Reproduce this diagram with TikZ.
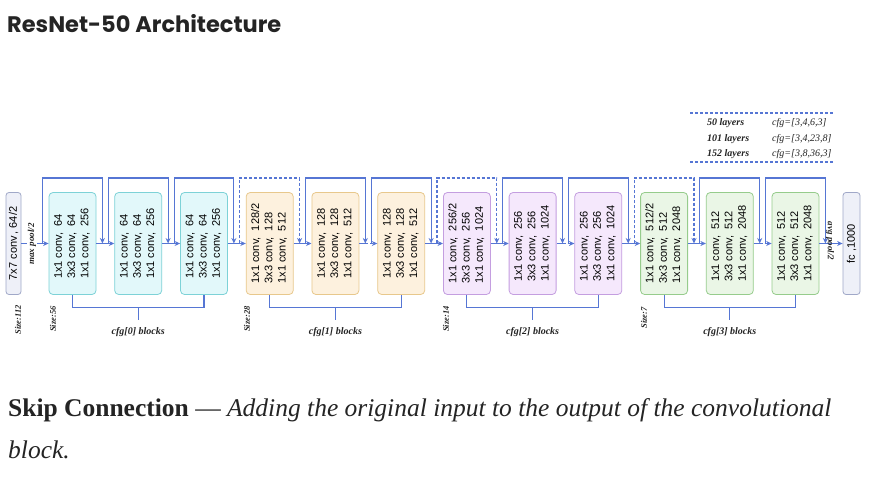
\documentclass[tikz,border=0pt]{standalone}
\usepackage{fontspec}
\usepackage{graphicx}
\setmainfont{Liberation Serif}
\newfontfamily\blksans{Liberation Sans}
\newfontfamily\titlefont{Poppins}
\usetikzlibrary{arrows.meta,calc}
\definecolor{lnblue}{RGB}{86,118,212}
\definecolor{cyfill}{RGB}{226,248,250}
\definecolor{cydraw}{RGB}{125,210,215}
\definecolor{orfill}{RGB}{253,241,222}
\definecolor{ordraw}{RGB}{232,200,140}
\definecolor{pufill}{RGB}{245,232,252}
\definecolor{pudraw}{RGB}{196,158,224}
\definecolor{grfill}{RGB}{234,246,230}
\definecolor{grdraw}{RGB}{150,204,140}
\definecolor{gyfill}{RGB}{238,240,248}
\definecolor{gydraw}{RGB}{160,168,200}
\definecolor{txtdark}{RGB}{36,36,36}
\newcommand\blktext[3]{\rotatebox{90}{\begin{tabular}{@{}l@{}}#1\\#2\\#3\end{tabular}}}
\begin{document}
\begin{tikzpicture}[x=1pt,y=-1pt,
  blk/.style={draw, rounded corners=4pt, minimum width=47pt, minimum height=102pt, inner sep=0pt, line width=0.8pt, font=\blksans\fontsize{11}{13.3}\selectfont},
  cy/.style={blk, fill=cyfill, draw=cydraw},
  orb/.style={blk, fill=orfill, draw=ordraw},
  pub/.style={blk, fill=pufill, draw=pudraw},
  grb/.style={blk, fill=grfill, draw=grdraw},
  endbox/.style={draw=gydraw, fill=gyfill, rounded corners=3pt, line width=0.8pt, minimum height=102pt, inner sep=0pt, font=\blksans\fontsize{11}{13}\selectfont},
  conn/.style={draw=lnblue, line width=1.1pt, -{Stealth[length=5.5pt,width=5pt]}},
  dconn/.style={conn, dash pattern=on 3pt off 2pt},
  brk/.style={draw=lnblue, line width=1.1pt},
  lbl/.style={inner sep=0pt, font=\bfseries\itshape\fontsize{8.5}{10}\selectfont, text=txtdark},
  leg/.style={inner sep=0pt, anchor=base west, font=\itshape\fontsize{10}{11}\selectfont, text=txtdark},
]
\useasboundingbox (0,0) rectangle (873,486);
\fill[white] (0,0) rectangle (873,486);

% title
\node[anchor=base west, inner sep=0pt, text=txtdark, font=\titlefont\bfseries\fontsize{22.5}{26}\selectfont] (title) at (7,33) {ResNet-50 Architecture};

% legend
\coordinate (lg1) at (690,113);
\coordinate (lg2) at (834,113);
\coordinate (lg3) at (690,162);
\coordinate (lg4) at (834,162);
\draw[brk, dash pattern=on 3pt off 2pt] (lg1) -- (lg2);
\draw[brk, dash pattern=on 3pt off 2pt] (lg3) -- (lg4);
\node[leg, font=\bfseries\itshape\fontsize{10}{11}\selectfont] (l50) at (707,126) {50 layers};
\node[leg, font=\bfseries\itshape\fontsize{10}{11}\selectfont] (l101) at (707,142) {101 layers};
\node[leg, font=\bfseries\itshape\fontsize{10}{11}\selectfont] (l152) at (707,157) {152 layers};
\node[leg] (c50) at (772,126) {cfg=[3,4,6,3]};
\node[leg] (c101) at (772,142) {cfg=[3,4,23,8]};
\node[leg] (c152) at (772,157) {cfg=[3,8,36,3]};

% input and output boxes
\node[endbox, minimum width=15pt] (in) at (13.5,243.5) {\rotatebox{90}{7x7 conv\,,\ 64/2}};
\node[endbox, minimum width=17pt] (fc) at (851.5,243.5) {\rotatebox{90}{fc ,1000}};

% blocks
\node[cy] (b1) at (72.5,243.5) {\blktext{1x1 conv,\ \ 64}{3x3 conv,\ \ 64}{1x1 conv,\ \ 256}};
\node[cy] (b2) at (138.2,243.5) {\blktext{1x1 conv,\ \ 64}{3x3 conv,\ \ 64}{1x1 conv,\ \ 256}};
\node[cy] (b3) at (204.0,243.5) {\blktext{1x1 conv,\ \ 64}{3x3 conv,\ \ 64}{1x1 conv,\ \ 256}};
\node[orb] (b4) at (269.7,243.5) {\blktext{1x1 conv,\ \ 128/2}{3x3 conv,\ \ 128}{1x1 conv,\ \ 512}};
\node[orb] (b5) at (335.4,243.5) {\blktext{1x1 conv,\ \ 128}{3x3 conv,\ \ 128}{1x1 conv,\ \ 512}};
\node[orb] (b6) at (401.2,243.5) {\blktext{1x1 conv,\ \ 128}{3x3 conv,\ \ 128}{1x1 conv,\ \ 512}};
\node[pub] (b7) at (466.9,243.5) {\blktext{1x1 conv,\ \ 256/2}{3x3 conv,\ \ 256}{1x1 conv,\ \ 1024}};
\node[pub] (b8) at (532.6,243.5) {\blktext{1x1 conv,\ \ 256}{3x3 conv,\ \ 256}{1x1 conv,\ \ 1024}};
\node[pub] (b9) at (598.3,243.5) {\blktext{1x1 conv,\ \ 256}{3x3 conv,\ \ 256}{1x1 conv,\ \ 1024}};
\node[grb] (b10) at (664.1,243.5) {\blktext{1x1 conv,\ \ 512/2}{3x3 conv,\ \ 512}{1x1 conv,\ \ 2048}};
\node[grb] (b11) at (729.8,243.5) {\blktext{1x1 conv,\ \ 512}{3x3 conv,\ \ 512}{1x1 conv,\ \ 2048}};
\node[grb] (b12) at (795.5,243.5) {\blktext{1x1 conv,\ \ 512}{3x3 conv,\ \ 512}{1x1 conv,\ \ 2048}};

% main line
\draw[conn] (in) -- (b1);
\draw[conn] (b1) -- (b2);
\draw[conn] (b2) -- (b3);
\draw[conn] (b3) -- (b4);
\draw[conn] (b4) -- (b5);
\draw[brk] (b5.east) -- ([xshift=6pt]b5.east);
\draw[dconn] ([xshift=6pt]b5.east) -- (b6.west);
\draw[conn] (b6) -- (b7);
\draw[conn] (b7) -- (b8);
\draw[brk] (b8.east) -- ([xshift=6pt]b8.east);
\draw[dconn] ([xshift=6pt]b8.east) -- (b9.west);
\draw[conn] (b9) -- (b10);
\draw[conn] (b10) -- (b11);
\draw[brk] (b11.east) -- ([xshift=6pt]b11.east);
\draw[dconn] ([xshift=6pt]b11.east) -- (b12.west);
\draw[conn] (b12) -- (fc);

% skip connections
\foreach \b in {b1,b2,b3,b5,b6,b8,b9,b11,b12}{
  \draw[conn] ([xshift=-6pt]\b.west) -- ++(0,-65.5) -| ([xshift=6pt]\b.east);
}
\foreach \b in {b4,b7,b10}{
  \draw[dconn] ([xshift=-6pt]\b.west) -- ++(0,-65.5) -| ([xshift=6pt]\b.east);
}

% bottom brackets and labels
\draw[brk] (b1.south) -- ++(0,13) -| (b3.south);
\draw[brk] ([yshift=-13pt]b2.south) -- ++(0,12.5);
\node[lbl, font=\bfseries\itshape\fontsize{10}{11}\selectfont] (g0) at ([yshift=-37pt]b2.south) {cfg[0] blocks};
\draw[brk] (b4.south) -- ++(0,13) -| (b6.south);
\draw[brk] ([yshift=-13pt]b5.south) -- ++(0,12.5);
\node[lbl, font=\bfseries\itshape\fontsize{10}{11}\selectfont] (g1) at ([yshift=-37pt]b5.south) {cfg[1] blocks};
\draw[brk] (b7.south) -- ++(0,13) -| (b9.south);
\draw[brk] ([yshift=-13pt]b8.south) -- ++(0,12.5);
\node[lbl, font=\bfseries\itshape\fontsize{10}{11}\selectfont] (g2) at ([yshift=-37pt]b8.south) {cfg[2] blocks};
\draw[brk] (b10.south) -- ++(0,13) -| (b12.south);
\draw[brk] ([yshift=-13pt]b11.south) -- ++(0,12.5);
\node[lbl, font=\bfseries\itshape\fontsize{10}{11}\selectfont] (g3) at ([yshift=-37pt]b11.south) {cfg[3] blocks};

% size and pooling labels
\node[lbl, rotate=90] (s112) at (18,320) {Size:112};
\node[lbl, rotate=90] (s56) at (53,319) {Size:56};
\node[lbl, rotate=90] (s28) at (247,319) {Size:28};
\node[lbl, rotate=90] (s14) at (446,319) {Size:14};
\node[lbl, rotate=90] (s7) at (644,318) {Size:7};
\node[lbl, rotate=90, fill=white, inner sep=0.5pt, font=\bfseries\itshape\fontsize{9}{10}\selectfont] (mp) at (32,244) {max pool/2};
\node[lbl, rotate=-90, font=\bfseries\itshape\fontsize{9}{10}\selectfont] (ap) at (830,241) {avg pool/2};

% caption text
\node[anchor=base west, inner sep=0pt, text=txtdark, font=\fontsize{25.5}{30}\selectfont] (cap1) at (8,416) {\textbf{Skip Connection} --- \textit{Adding the original input to the output of the convolutional}};
\node[anchor=base west, inner sep=0pt, text=txtdark, font=\fontsize{25.5}{30}\selectfont] (cap2) at (8,458) {\textit{block.}};
\end{tikzpicture}
\end{document}
